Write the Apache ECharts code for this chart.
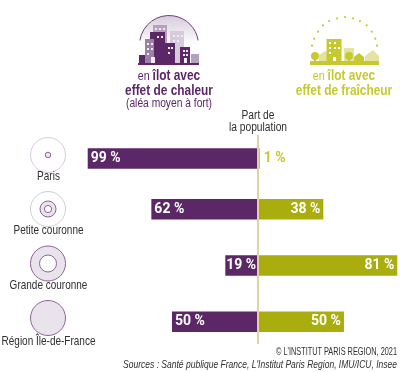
<!DOCTYPE html>
<html><head><meta charset="utf-8">
<style>html,body{margin:0;padding:0;background:#fff}#c{width:400px;height:372px}</style>
<script src="https://cdn.jsdelivr.net/npm/echarts@6/dist/echarts.min.js"></script>
</head><body><div id="c"></div>
<script>
const categories = ['Paris','Petite couronne','Grande couronne','Région Île-de-France'];
const heatValues = [99,62,19,50];
const coolValues = [1,38,81,50];

const FONT = '"Liberation Sans",sans-serif';
const PURPLE='#5B2767', OLIVE='#A9AE0E', LIME='#C6C92F', LINE='#DFD49E', GREY='#2f2f2f';
const SX = 0.82;

function barSeries(name, vals, color, grid, pos){
  return {
    name, type:'bar', stack:'s'+grid, xAxisIndex:grid, yAxisIndex:grid, barWidth:20.5,
    itemStyle:{color}, silent:true,
    label:{show:true, position:pos, formatter:p=>Math.abs(p.value)+' %', color:'#fff', fontFamily:'Roboto,'+FONT, fontWeight:'bold', fontSize:14, distance:3},
    data: vals.map(v=>{
      const o={value:v};
      if(Math.abs(v)<5) o.label={position:'right',color:LIME,distance:4};
      else if(Math.abs(v)<25) o.label={distance:1};
      return o;
    })
  };
}
const xA = i => ({type:'value',gridIndex:i,min:-100,max:82,show:false});
const yA = (i,d) => ({type:'category',gridIndex:i,data:d,inverse:true,show:false});
const heatNeg = heatValues.map(v=>-v);

const option = {
  animation:false,
  grid:[
    {left:86,right:1,top:130.5,height:56},
    {left:86,right:1,top:181.2,height:168.6}
  ],
  xAxis:[xA(0),xA(1)],
  yAxis:[yA(0,categories.slice(0,1)),yA(1,categories.slice(1))],
  series:[
    barSeries('heat',heatNeg.slice(0,1),PURPLE,0,'insideLeft'),
    barSeries('cool',coolValues.slice(0,1),OLIVE,0,'insideRight'),
    barSeries('heat',heatNeg.slice(1),PURPLE,1,'insideLeft'),
    barSeries('cool',coolValues.slice(1),OLIVE,1,'insideRight')
  ]
};

const chart = echarts.init(document.getElementById('c'),null,{renderer:'canvas'});
chart.setOption(option);
const x0 = chart.convertToPixel({xAxisIndex:1},0);

const g=[];
const rect=(x,y,w,h,fill)=>g.push({type:'rect',shape:{x,y,width:w,height:h},style:{fill},silent:true});
const circ=(cx,cy,r,fill,stroke,lw)=>g.push({type:'circle',shape:{cx,cy,r},style:{fill,stroke,lineWidth:lw||1},silent:true});
const txt=(x,y,text,o,sx)=>g.push({type:'text',x,y,scaleX:sx||SX,silent:true,style:Object.assign({text,fill:GREY,font:'12.5px '+FONT,align:'center',verticalAlign:'middle'},o||{})});

// central axis
g.push({type:'line',shape:{x1:x0,y1:135,x2:x0,y2:344},style:{stroke:LINE,lineWidth:2},z:20,silent:true});

// heat icon
g.push({type:'sector',shape:{cx:169,cy:45,r:29.5,r0:0,startAngle:Math.PI,endAngle:2*Math.PI},style:{fill:new echarts.graphic.LinearGradient(0,0,0,1,[{offset:0,color:'#D6CBDC'},{offset:1,color:'#ffffff'}])},silent:true});
g.push({type:'arc',shape:{cx:169,cy:45,r:29.5,startAngle:Math.PI*1.05,endAngle:Math.PI*1.95},style:{fill:'none',stroke:'#6d3d78',lineWidth:1},silent:true});
rect(153,25,14,20,'#B5A1BE');
rect(170,31,14,32,'#D6CADB');
rect(191,54,8,9,'#B5A1BE');
rect(150,32,15,31,PURPLE);
rect(145,39,9,24,'#9C80A7');
rect(165,43,10,20,PURPLE);
rect(180,47,10,16,PURPLE);
rect(139,55,6,8,PURPLE);
rect(138,63,61,2,PURPLE);
[[155,28],[159,28],[163,28],[157,36],[161,36],[147,43],[151,43],[147,48],[151,48],[147,53],[168,47],[171,47],[168,52],[183,50],[186,50],[183,54],[186,54],[173,35],[177,35],[181,35],[173,40],[177,40]].forEach(p=>rect(p[0],p[1],2,2,'#f1ecf3'));
rect(151,57,4,6,'#f1ecf3');rect(184,58,3,5,'#f1ecf3');

// cool icon
[[345,17],[353,18.3],[360,21],[366.7,25.3],[371.7,31.7],[375.3,38.7],[377,45.7],[337,18.3],[329,21],[323,25.3],[318,31.7],[314.3,38.7],[312,45.7]].forEach(p=>circ(p[0],p[1],1.1,LIME,'none',0));
rect(344,48,10,14,'#E2E4A0');
g.push({type:'polygon',shape:{points:[[365,62],[365,56],[373,50],[379,56],[379,62]]},style:{fill:'#E2E4A0'},silent:true});
g.push({type:'polygon',shape:{points:[[319,62],[319,55],[325,51],[331,55],[331,62]]},style:{fill:'#E2E4A0'},silent:true});
rect(326.5,39,15,23,LIME);
[[329,42],[334,42],[329,47],[334,47],[338,47],[329,52]].forEach(p=>rect(p[0],p[1],2,2,'#fff'));
rect(333,57,3,5,'#fff');
circ(315,56,4,LIME,'none',0);rect(314,58,2,4,LIME);
circ(349,56,4,LIME,'none',0);rect(348,58,2,4,LIME);
g.push({type:'polygon',shape:{points:[[354,62],[354,57],[359,53],[364,57],[364,62]]},style:{fill:LIME},silent:true});
rect(310,61,69,4,LIME);

// headers
const rich=(c)=>({r:{fill:c,font:'13px '+FONT},b:{fill:c,font:'bold 14.5px '+FONT}});
g.push({type:'text',x:169,y:76,scaleX:SX,silent:true,style:{rich:rich(PURPLE),text:'{r|en }{b|îlot avec}',align:'center',verticalAlign:'middle'}});
txt(169,90.5,'effet de chaleur',{fill:PURPLE,font:'bold 14.5px '+FONT});
txt(169,104,'(aléa moyen à fort)',{fill:PURPLE,font:'12.5px '+FONT});
g.push({type:'text',x:344,y:76,scaleX:SX,silent:true,style:{rich:rich(LIME),text:'{r|en }{b|îlot avec}',align:'center',verticalAlign:'middle'}});
txt(344,91,'effet de fraîcheur',{fill:LIME,font:'bold 14.5px '+FONT});
txt(258,115.5,'Part de');
txt(258,128,'la population');

// territory icons
const OUT='#D8C8DC', MID='#8F6399', PALE='#E9E4EC';
circ(48,155,17.5,'#fff',OUT);circ(48,155,2.8,'#EDE6EF',MID);
circ(48,209,17.5,'#fff',OUT);circ(48,209,8,PALE,MID);circ(48,209,3.6,'#fff',MID);
circ(48,263.5,17.5,PALE,MID);circ(48,263.5,8.5,'#fff',MID);
circ(48,318,17.5,PALE,MID);
[177,231,286,341.5].forEach((y,i)=>txt(48.5,y,categories[i],{font:'12.2px '+FONT}));

// footer
txt(397,352,'© L\'INSTITUT PARIS REGION, 2021',{align:'right',font:'10.5px '+FONT},0.7);
txt(397,365,'Sources : Santé publique France, L\'Institut Paris Region, IMU/ICU, Insee',{align:'right',font:'italic 10.5px '+FONT},0.81);

chart.setOption({graphic:{elements:g}});
</script></body></html>
